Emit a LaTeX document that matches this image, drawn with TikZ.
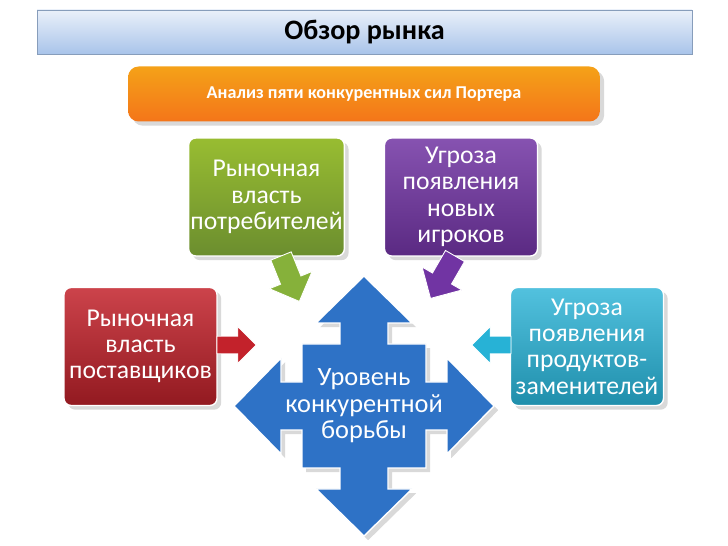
\documentclass[tikz,border=0pt]{standalone}
\usepackage{fontspec}
\setmainfont{Carlito}
\usetikzlibrary{shadows}

\definecolor{boxgreen}{HTML}{86B13A}
\definecolor{boxpurple}{HTML}{7134A3}
\definecolor{boxred}{HTML}{C3222B}
\definecolor{boxcyan}{HTML}{27B2D6}
\definecolor{crossblue}{HTML}{2E72C6}
\definecolor{barorange}{HTML}{F28A1E}
\definecolor{titleblue}{HTML}{A9C4EA}

\tikzset{
  forcebox/.style={rounded corners=4pt, draw=white, line width=0.8pt, inner sep=1pt,
    minimum width=3.06cm, minimum height=2.36cm, text=white, align=center,
    font=\fontsize{14.6}{15}\selectfont, drop shadow={opacity=0.3}},
  fatarrow/.pic={
    \fill[#1, draw=white, line width=0.5pt]
      (0,-11) -- (26,-11) -- (26,-23) -- (49,0) -- (26,23) -- (26,11) -- (0,11) -- cycle;
  }
}

\begin{document}
\begin{tikzpicture}[x=0.02cm, y=-0.02cm]
  \useasboundingbox (0,0) rectangle (728,546);

  % title and subtitle bars
  \node[draw=titleblue!80!black, top color=titleblue!25, bottom color=titleblue, minimum width=13.1cm,
    minimum height=0.88cm, font=\fontsize{16}{18}\bfseries\selectfont] (title) at (364.5,32) {Обзор рынка};
  \node[rounded corners=6pt, top color=barorange!80!yellow, bottom color=barorange!85!red,
    minimum width=9.44cm, minimum height=1.1cm, text=white,
    font=\fontsize{10.3}{12}\bfseries\selectfont, drop shadow={opacity=0.3}] (porter) at (364,94)
    {Анализ пяти конкурентных сил Портера};

  % the four forces
  \node[forcebox, top color=boxgreen!85!yellow, bottom color=boxgreen!80!black] (buyers) at (266.5,197)
    {Рыночная\\власть\\потребителей};
  \node[forcebox, top color=boxpurple!85!white, bottom color=boxpurple!80!black] (entrants) at (461,197)
    {Угроза\\появления\\новых\\игроков};
  \node[forcebox, top color=boxred!85!white, bottom color=boxred!75!black] (suppliers) at (140.5,346.5)
    {Рыночная\\власть\\поставщиков};
  \node[forcebox, top color=boxcyan!80!white, bottom color=boxcyan!80!black] (substitutes) at (587,346.5)
    {Угроза\\появления\\продуктов-\\заменителей};

  % central cross arrow
  \coordinate (core) at (364,406);
  \fill[crossblue, draw=white, line width=0.8pt, shift={(core)}, drop shadow={opacity=0.3}]
    (0,-130) -- (48,-83) -- (24,-83) -- (24,-62) -- (62,-62) -- (62,-24) -- (83,-24) -- (83,-48)
    -- (130,0) -- (83,48) -- (83,24) -- (62,24) -- (62,62) -- (24,62) -- (24,83) -- (48,83)
    -- (0,130) -- (-48,83) -- (-24,83) -- (-24,62) -- (-62,62) -- (-62,24) -- (-83,24) -- (-83,48)
    -- (-130,0) -- (-83,-48) -- (-83,-24) -- (-62,-24) -- (-62,-62) -- (-24,-62) -- (-24,-83)
    -- (-48,-83) -- cycle;
  \node[text=white, align=center, font=\fontsize{15}{15}\selectfont] (rivalry) at (core)
    {Уровень\\конкурентной\\борьбы};

  % arrows from the forces
  \pic[rotate=-68] at (281,256) {fatarrow=boxgreen};
  \pic[rotate=-120] at (455,256) {fatarrow=boxpurple};
  \pic[scale=0.8] at (217,345) {fatarrow=boxred};
  \pic[rotate=180, scale=0.8] at (511,345) {fatarrow=boxcyan};
\end{tikzpicture}
\end{document}
